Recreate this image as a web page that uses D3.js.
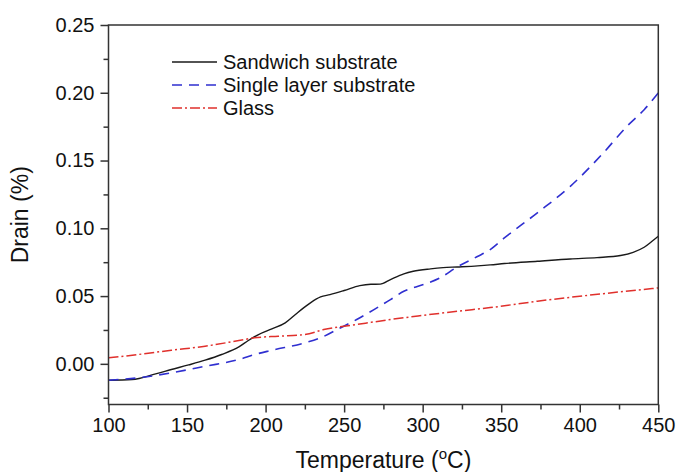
<!DOCTYPE html>
<html>
<head>
<meta charset="utf-8">
<script src="https://cdn.jsdelivr.net/npm/d3@7/dist/d3.min.js"></script>
<style>
  html, body { margin: 0; padding: 0; background: #fff; }
  text { font-family: "Liberation Sans", Arial, Helvetica, sans-serif; fill: #111; }
</style>
</head>
<body>
<svg id="chart" width="677" height="472"></svg>
<script>
// ---- Data ----
const sandwichT = [100, 115, 130, 140, 151, 161.5, 172, 183, 189, 195.5, 204, 212.5, 219, 225, 229, 235, 241, 250, 260, 267, 273, 279.5, 288, 294, 305, 313, 322, 335, 343, 352, 373, 394, 411, 426, 434, 441, 446, 450];
const sandwichV = [-0.0121, -0.0116, -0.0074, -0.0042, -0.0008, 0.0027, 0.0069, 0.0125, 0.0172, 0.0216, 0.0258, 0.0302, 0.0364, 0.0420, 0.0454, 0.0494, 0.0511, 0.0541, 0.0577, 0.0587, 0.0588, 0.0622, 0.0664, 0.0683, 0.0701, 0.0710, 0.0715, 0.0723, 0.0730, 0.0740, 0.0757, 0.0774, 0.0784, 0.0799, 0.0823, 0.0860, 0.0904, 0.0941];

const singleT = [100, 119, 140, 161.5, 183, 193, 204, 225, 235, 247.5, 258, 269, 279.5, 288, 300.5, 311, 322, 334.5, 343, 352, 373, 394, 415, 430, 441, 450];
const singleV = [-0.0121, -0.0103, -0.0066, -0.0018, 0.0032, 0.0069, 0.0100, 0.0155, 0.0192, 0.0265, 0.0327, 0.0400, 0.0474, 0.0535, 0.0585, 0.0634, 0.0715, 0.0790, 0.0843, 0.0929, 0.1114, 0.1310, 0.1556, 0.1752, 0.1875, 0.1998];

const glassT = [100, 119, 140, 161.5, 183, 193, 208, 225, 237, 258, 279.5, 300.5, 322, 343, 373, 415, 450];
const glassV = [0.0044, 0.0069, 0.0100, 0.0130, 0.0172, 0.0192, 0.0204, 0.0216, 0.0253, 0.0290, 0.0327, 0.0358, 0.0388, 0.0415, 0.0462, 0.0518, 0.0560];

const seriesNames = ["Sandwich substrate", "Single layer substrate", "Glass"];
const xTicks = [100, 150, 200, 250, 300, 350, 400, 450];
const xMinorTicks = [125, 175, 225, 275, 325, 375, 425];
const yTicks = [0.00, 0.05, 0.10, 0.15, 0.20, 0.25];
const yMinorTicks = [-0.025, 0.025, 0.075, 0.125, 0.175, 0.225];
const xTitle = "Temperature (";
const yTitle = "Drain (%)";

// ---- Layout ----
const svg = d3.select("#chart");
const m = { left: 108.5, right: 658.3, top: 25, bottom: 404.5 };
const x = d3.scaleLinear().domain([100, 450]).range([m.left, m.right]);
const y = d3.scaleLinear().domain([-0.03, 0.25]).range([m.bottom, m.top]);

const styles = [
  { color: "#1a1a1a", dash: null, width: 1.4 },
  { color: "#2f2fd0", dash: "10,7", width: 1.6 },
  { color: "#e0302c", dash: "10,3,2,3", width: 1.5 }
];
const series = [
  { t: sandwichT, v: sandwichV },
  { t: singleT, v: singleV },
  { t: glassT, v: glassV }
];

const line = d3.line().x(d => x(d[0])).y(d => y(d[1])).curve(d3.curveMonotoneX);

svg.append("clipPath").attr("id", "clip")
  .append("rect").attr("x", m.left).attr("y", m.top)
  .attr("width", m.right - m.left).attr("height", m.bottom - m.top);

const plot = svg.append("g").attr("clip-path", "url(#clip)");
series.forEach((s, i) => {
  const pts = s.t.map((t, k) => [t, s.v[k]]);
  plot.append("path")
    .attr("d", line(pts))
    .attr("fill", "none")
    .attr("stroke", styles[i].color)
    .attr("stroke-width", styles[i].width)
    .attr("stroke-dasharray", styles[i].dash);
});

// ---- Axes ----
const axisColor = "#333";
const xAxis = svg.append("g").attr("transform", `translate(0,${m.bottom})`)
  .call(d3.axisBottom(x).tickValues(xTicks).tickFormat(d3.format("d")).tickSize(8).tickPadding(5));
const xMinor = svg.append("g").attr("transform", `translate(0,${m.bottom})`)
  .call(d3.axisBottom(x).tickValues(xMinorTicks).tickFormat("").tickSize(5));
const yAxis = svg.append("g").attr("transform", `translate(${m.left},0)`)
  .call(d3.axisLeft(y).tickValues(yTicks).tickFormat(d3.format(".2f")).tickSize(8).tickPadding(6));
const yMinor = svg.append("g").attr("transform", `translate(${m.left},0)`)
  .call(d3.axisLeft(y).tickValues(yMinorTicks).tickFormat("").tickSize(5));

[xAxis, xMinor, yAxis, yMinor].forEach(g => {
  g.select(".domain").remove();
  g.selectAll("line").attr("stroke", axisColor).attr("stroke-width", 1.5);
  g.selectAll("text").attr("font-size", 20).attr("fill", "#111")
    .attr("font-family", "'Liberation Sans', Arial, sans-serif");
});

// frame
svg.append("rect")
  .attr("x", m.left).attr("y", m.top)
  .attr("width", m.right - m.left).attr("height", m.bottom - m.top)
  .attr("fill", "none").attr("stroke", axisColor).attr("stroke-width", 1.5);

// ---- Titles ----
const xt = svg.append("text")
  .attr("x", (m.left + m.right) / 2).attr("y", 468)
  .attr("text-anchor", "middle").attr("font-size", 23);
xt.append("tspan").text(xTitle);
xt.append("tspan").attr("font-size", 15).attr("dy", -9).text("o");
xt.append("tspan").attr("dy", 9).text("C)");

svg.append("text")
  .attr("transform", `translate(28,${(m.top + m.bottom) / 2}) rotate(-90)`)
  .attr("text-anchor", "middle").attr("font-size", 23)
  .text(yTitle);

// ---- Legend ----
const legend = svg.append("g");
const legendY = [62, 85, 108];
seriesNames.forEach((name, i) => {
  legend.append("line")
    .attr("x1", 172).attr("x2", 217)
    .attr("y1", legendY[i]).attr("y2", legendY[i])
    .attr("stroke", styles[i].color)
    .attr("stroke-width", styles[i].width)
    .attr("stroke-dasharray", styles[i].dash);
  legend.append("text")
    .attr("x", 223).attr("y", legendY[i])
    .attr("dy", "0.35em")
    .attr("font-size", 20)
    .text(name);
});
</script>
</body>
</html>
